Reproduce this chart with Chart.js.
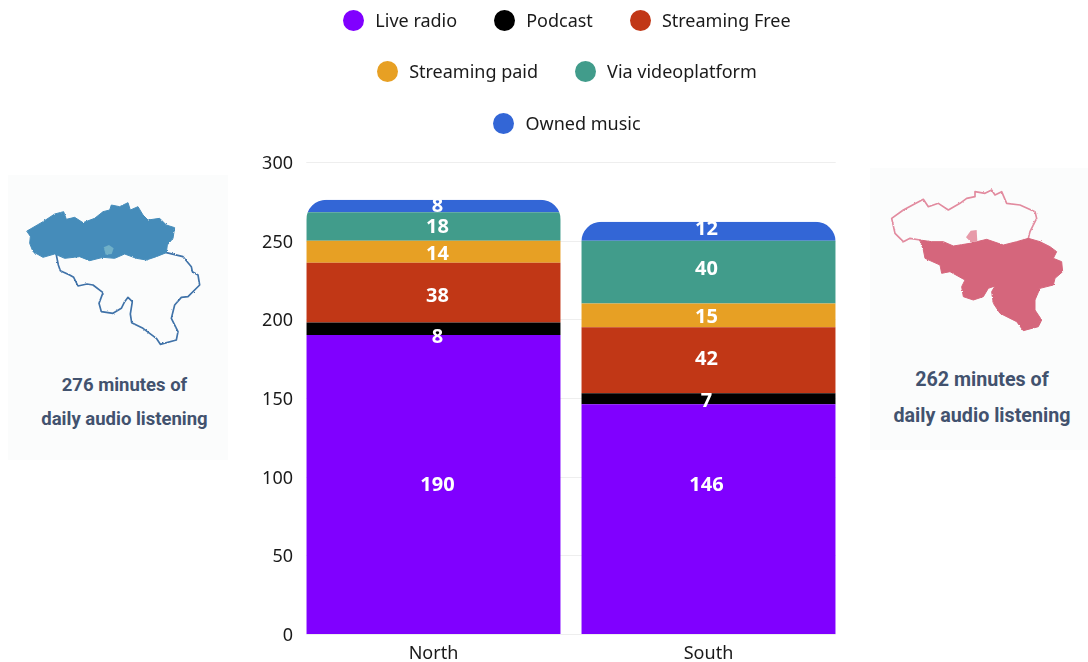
<!DOCTYPE html>
<html>
<head>
<meta charset="utf-8">
<title>Daily audio listening</title>
<script src="https://cdn.jsdelivr.net/npm/chart.js@4"></script>
<style>
    html, body { margin: 0; padding: 0; background: #fff; }
    body { position: relative; width: 1088px; height: 662px; overflow: hidden; font-family: "Noto Sans", sans-serif; }
    #graf { position: absolute; left: 0; top: 0; }
    .legend-row { position: absolute; left: 267px; width: 600px; display: flex; justify-content: center; gap: 37px; height: 24px; line-height: 24px; font-size: 18px; color: #1a1a1a; }
    .legend-item { display: flex; align-items: center; }
    .legend-dot { width: 21px; height: 21px; border-radius: 50%; margin-right: 11px; }
    .panel { position: absolute; background: #fbfcfc; }
    .panel svg { position: absolute; left: 0; top: 0; }
    .panel div { position: absolute; left: 0; width: 100%; text-align: center; font-family: Roboto, sans-serif; font-weight: 700; color: #42526e; white-space: nowrap; box-sizing: border-box; }
</style>
</head>
<body>
<canvas id="graf" width="1088" height="662"></canvas>
<div id="legenda"></div>

<div class="panel" style="left:8px;top:175px;width:220px;height:285px">
    <svg width="220" height="285" viewBox="25 45 660 855">
        <defs>
            <filter id="rough" x="-5%" y="-5%" width="110%" height="110%">
                <feTurbulence type="fractalNoise" baseFrequency="0.3" numOctaves="2" seed="4" result="sum"/>
                <feDisplacementMap in="SourceGraphic" in2="sum" scale="6" xChannelSelector="R" yChannelSelector="G"/>
                <feGaussianBlur stdDeviation="0.8"/>
            </filter>
        </defs>
        <g filter="url(#rough)" stroke-linejoin="round" stroke-linecap="round">
            <path fill="none" stroke="#3f72a8" stroke-width="5" d="M170 285 L176 315 L182 332 L210 345 L222 352 L235 378 L262 372 L280 375 L310 398 L298 430 L305 455 L340 460 L365 445 L375 425 L385 412 L398 425 L392 462 L396 488 L430 505 L470 535 L482 553 L530 540 L535 515 L515 475 L525 435 L545 412 L565 410 L600 375 L595 345 L578 335 L575 320 L550 290 L500 278"/>
            <path fill="#458cba" stroke="#458cba" stroke-width="3" d="M82 213 L130 185 L165 162 L192 155 L200 178 L225 172 L250 188 L285 175 L310 155 L330 150 L335 135 L360 140 L385 128 L392 150 L415 140 L430 165 L445 180 L480 175 L500 195 L525 203 L520 235 L503 255 L500 278 L470 290 L440 300 L410 295 L375 282 L345 295 L310 292 L270 302 L240 290 L195 295 L165 282 L130 292 L100 275 L90 250 L92 230 Z"/>
            <path fill="#6fb0c8" d="M312 262 L328 255 L342 265 L336 282 L318 284 Z"/>
        </g>
    </svg>
    <div style="top:198px;font-size:18.5px;line-height:24px;padding-left:13px">276 minutes of</div>
    <div style="top:232px;font-size:18.5px;line-height:24px;padding-left:13px">daily audio listening</div>
</div>

<div class="panel" style="left:870px;top:168px;width:218px;height:282px">
    <svg width="218" height="282" viewBox="30 24 654 846">
        <g filter="url(#rough)" stroke-linejoin="round" stroke-linecap="round">
            <path fill="none" stroke="#e28b9f" stroke-width="5" d="M180 240 L150 235 L130 245 L105 220 L95 175 L130 150 L190 118 L205 140 L235 130 L265 150 L300 130 L320 115 L345 110 L345 95 L375 100 L395 90 L405 105 L425 95 L440 130 L480 135 L525 155 L530 175 L510 215 L505 235"/>
            <path fill="#d5667c" stroke="#d5667c" stroke-width="3" d="M180 240 L215 245 L250 245 L280 258 L330 250 L380 238 L430 255 L470 245 L505 235 L540 245 L570 260 L590 275 L580 295 L605 305 L608 335 L585 355 L580 375 L540 385 L525 420 L525 450 L545 480 L535 500 L490 512 L470 485 L420 460 L400 430 L395 395 L405 378 L385 385 L370 410 L340 420 L310 410 L305 380 L315 360 L270 335 L245 340 L240 315 L195 295 L190 270 Z"/>
            <path fill="#e79aa9" d="M318 232 L332 212 L350 210 L352 245 L332 246 Z"/>
        </g>
    </svg>
    <div style="top:200px;font-size:19.7px;line-height:24px;padding-left:6px">262 minutes of</div>
    <div style="top:236px;font-size:19.7px;line-height:24px;padding-left:6px">daily audio listening</div>
</div>

<script>
// Data
const kategorie = ['North', 'South'];
const nazvy = ['Live radio', 'Podcast', 'Streaming Free', 'Streaming paid', 'Via videoplatform', 'Owned music'];
const liveRadio = [190, 146];
const podcast = [8, 7];
const streamingFree = [38, 42];
const streamingPaid = [14, 15];
const videoplatform = [18, 40];
const ownedMusic = [8, 12];
const yTicks = [0, 50, 100, 150, 200, 250, 300];

const hodnoty = [liveRadio, podcast, streamingFree, streamingPaid, videoplatform, ownedMusic];
const barvy = ['#8000ff', '#000000', '#c13716', '#e7a024', '#419c8b', '#3366d6'];

// Posun popisku od stredu segmentu (px), [North, South]
const posunPopisku = [[0, -35], [8, 2], [3, -2], [2, 1], [0, -4], [-1, -3]];
const posunPopiskuX = [4, -2];

// Legenda - radky 3 / 2 / 1
const legenda = document.getElementById('legenda');
[[0, 1, 2], [3, 4], [5]].forEach((radek, i) => {
    const row = document.createElement('div');
    row.className = 'legend-row';
    row.style.top = [8, 59, 111][i] + 'px';
    radek.forEach(idx => {
        const item = document.createElement('div');
        item.className = 'legend-item';
        item.innerHTML = `<span class="legend-dot" style="background:${barvy[idx]}"></span>${nazvy[idx]}`;
        row.appendChild(item);
    });
    legenda.appendChild(row);
});

// Mrizka jen pod sirkou sloupcu, ne pres celou plochu grafu
const mrizka = {
    id: 'mrizka',
    beforeDraw(chart) {
        const ctx = chart.ctx;
        const y = chart.scales.y;
        const bars = chart.getDatasetMeta(0).data;
        const start = bars[0].x - bars[0].width / 2;
        const end = bars[1].x + bars[1].width / 2;
        ctx.save();
        ctx.strokeStyle = '#eeeeee';
        ctx.lineWidth = 1;
        yTicks.forEach(v => {
            const py = Math.round(y.getPixelForValue(v)) + 0.5;
            ctx.beginPath();
            ctx.moveTo(start, py);
            ctx.lineTo(end, py);
            ctx.stroke();
        });
        ctx.restore();
    }
};

// Zakulaceni cele vezicky, ne jen horniho segmentu
const kulateRohy = {
    id: 'kulateRohy',
    beforeDatasetsDraw(chart) {
        const ctx = chart.ctx;
        const meta = chart.getDatasetMeta(nazvy.length - 1);
        ctx.save();
        ctx.beginPath();
        meta.data.forEach(bar => {
            const w = bar.width;
            ctx.roundRect(bar.x - w / 2, bar.y, w, chart.scales.y.bottom - bar.y, [20, 20, 0, 0]);
        });
        ctx.clip();
    },
    afterDatasetsDraw(chart) {
        chart.ctx.restore();
    }
};

// Bile popisky hodnot
const popisky = {
    id: 'popisky',
    afterDraw(chart) {
        const ctx = chart.ctx;
        ctx.save();
        ctx.fillStyle = '#fff';
        ctx.font = '700 20px "Noto Sans"';
        ctx.textAlign = 'center';
        ctx.textBaseline = 'middle';
        chart.data.datasets.forEach((ds, d) => {
            chart.getDatasetMeta(d).data.forEach((bar, i) => {
                const stred = (bar.y + bar.base) / 2;
                ctx.fillText(ds.data[i], bar.x + posunPopiskuX[i], stred + posunPopisku[d][i] + 1);
            });
        });
        ctx.restore();
    }
};

new Chart(document.getElementById('graf'), {
    type: 'bar',
    data: {
        labels: kategorie,
        datasets: nazvy.map((nazev, i) => ({
            label: nazev,
            data: hodnoty[i],
            backgroundColor: barvy[i],
            barPercentage: 1,
            categoryPercentage: 0.925
        }))
    },
    options: {
        responsive: false,
        animation: false,
        layout: { padding: { left: 250, right: 242, top: 162, bottom: 0 } },
        plugins: { legend: { display: false }, tooltip: { enabled: false } },
        scales: {
            x: {
                stacked: true,
                grid: { display: false, drawTicks: false },
                border: { display: false },
                ticks: { color: '#1a1a1a', font: { family: 'Noto Sans', size: 18 }, padding: 9 },
                afterFit: scale => { scale.height = 28; }
            },
            y: {
                stacked: true,
                min: 0,
                max: 300,
                afterBuildTicks: scale => { scale.ticks = yTicks.map(v => ({ value: v })); },
                grid: { display: false, drawTicks: false },
                border: { display: false },
                ticks: { color: '#1a1a1a', font: { family: 'Noto Sans', size: 18 }, padding: 3, labelOffset: 2 },
                afterFit: scale => { scale.width = 46; }
            }
        }
    },
    plugins: [mrizka, kulateRohy, popisky]
});
</script>
</body>
</html>
